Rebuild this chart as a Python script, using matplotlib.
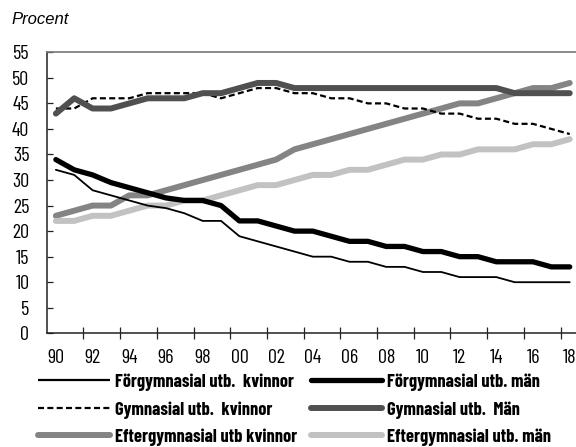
import matplotlib
matplotlib.use("Agg")
import matplotlib.pyplot as plt
from matplotlib import font_manager as fm
from matplotlib.lines import Line2D

names = {f.name for f in fm.fontManager.ttflist}
if 'Barlow Condensed' in names:
    plt.rcParams['font.family'] = ['Barlow Condensed', 'DejaVu Sans']
    TS, LS, LW = 14.5, 13.3, 'bold'
else:
    plt.rcParams['font.family'] = ['DejaVu Sans']
    plt.rcParams['font.stretch'] = 'condensed'
    TS, LS, LW = 11.5, 11, 'bold'

years = list(range(1990, 2019))
tick_labels = ['90', '92', '94', '96', '98', '00', '02', '04', '06', '08',
               '10', '12', '14', '16', '18']

forgym_kvinnor = [32, 31, 28, 27, 26, 25, 24.5, 23.5, 22, 22, 19, 18, 17, 16, 15,
                  15, 14, 14, 13, 13, 12, 12, 11, 11, 11, 10, 10, 10, 10]
forgym_man = [34, 32, 31, 29.5, 28.5, 27.5, 26.5, 26, 26, 25, 22, 22, 21, 20, 20,
              19, 18, 18, 17, 17, 16, 16, 15, 15, 14, 14, 14, 13, 13]
gym_kvinnor = [44, 44, 46, 46, 46, 47, 47, 47, 47, 46, 47, 48, 48, 47, 47,
               46, 46, 45, 45, 44, 44, 43, 43, 42, 42, 41, 41, 40, 39]
gym_man = [43, 46, 44, 44, 45, 46, 46, 46, 47, 47, 48, 49, 49, 48, 48,
           48, 48, 48, 48, 48, 48, 48, 48, 48, 48, 47, 47, 47, 47]
efter_kvinnor = [23, 24, 25, 25, 27, 27, 28, 29, 30, 31, 32, 33, 34, 36, 37,
                 38, 39, 40, 41, 42, 43, 44, 45, 45, 46, 47, 48, 48, 49]
efter_man = [22, 22, 23, 23, 24, 25, 25, 26, 26, 27, 28, 29, 29, 30, 31,
             31, 32, 32, 33, 34, 34, 35, 35, 36, 36, 36, 37, 37, 38]

labels = ['Förgymnasial utb.  kvinnor', 'Förgymnasial utb. män',
          'Gymnasial utb.  kvinnor', 'Gymnasial utb.  Män',
          'Eftergymnasial utb kvinnor', 'Eftergymnasial utb. män']

W, H = 576, 447
fig = plt.figure(figsize=(W / 100, H / 100), dpi=100)
left, right = 46.7 / W, 578.9 / W
bottom, top = 1 - 333.3 / H, 1 - 52.3 / H
ax = fig.add_axes([left, bottom, right - left, top - bottom])

styles = [
    dict(color='black', lw=1.3, ls='-'),
    dict(color='black', lw=3.8, ls='-'),
    dict(color='black', lw=1.6, ls=(0, (2.7, 1.5))),
    dict(color='#505050', lw=4.3, ls='-'),
    dict(color='#848484', lw=4.3, ls='-'),
    dict(color='#c2c2c2', lw=4.3, ls='-'),
]
series = [forgym_kvinnor, forgym_man, gym_kvinnor, gym_man, efter_kvinnor, efter_man]
order = [4, 5, 0, 1, 2, 3]
for i in order:
    ax.plot(years, series[i], solid_capstyle='round', solid_joinstyle='round',
            dash_capstyle='butt', **styles[i], zorder=3)

ax.set_xlim(1989.5, 2018.5)
ax.set_ylim(0, 55)
ax.set_yticks(range(0, 56, 5))
ax.tick_params(axis='y', direction='in', length=4.3, width=0.9, pad=12.5,
               labelsize=TS, color='#222222')

ax.set_xticks([y + 0.5 for y in range(1991, 2019, 2)])
ax.set_xticklabels([])
ax.tick_params(axis='x', which='major', direction='inout', length=8, width=0.9,
               color='#222222')
ax.set_xticks(list(range(1990, 2019, 2)), minor=True)
ax.set_xticklabels(tick_labels, minor=True)
ax.tick_params(axis='x', which='minor', length=0, pad=11.5, labelsize=TS)

for s in ['left', 'bottom']:
    ax.spines[s].set_color('#222222')
    ax.spines[s].set_linewidth(1.1)
ax.spines['top'].set_color('#777777')
ax.spines['top'].set_linewidth(1.2)
ax.spines['right'].set_visible(False)

fig.text(11 / W, 1 - 20 / H, 'Procent', fontsize=12, style='italic',
         family=['Liberation Sans', 'DejaVu Sans'], stretch='normal',
         va='center', ha='left')

# legend drawn manually: two columns, three rows
cols = [([0, 2, 4], 37.5, 109.5, 115), ([1, 3, 5], 311, 381.5, 387)]
rows_y = [380, 408, 435]
for idxs, hx0, hx1, tx in cols:
    for r, i in enumerate(idxs):
        y = 1 - rows_y[r] / H
        st = styles[i]
        cap = 'round' if st['lw'] > 3 else 'butt'
        lw = st['lw'] if st['lw'] > 1.4 else 1.6
        fig.add_artist(Line2D([hx0 / W, hx1 / W], [y, y], color=st['color'],
                              lw=lw, ls=st['ls'], solid_capstyle=cap,
                              dash_capstyle='butt'))
        fig.text(tx / W, y, labels[i], fontsize=LS, weight=LW,
                 va='center_baseline', ha='left')

fig.savefig('out.png', dpi=100)
